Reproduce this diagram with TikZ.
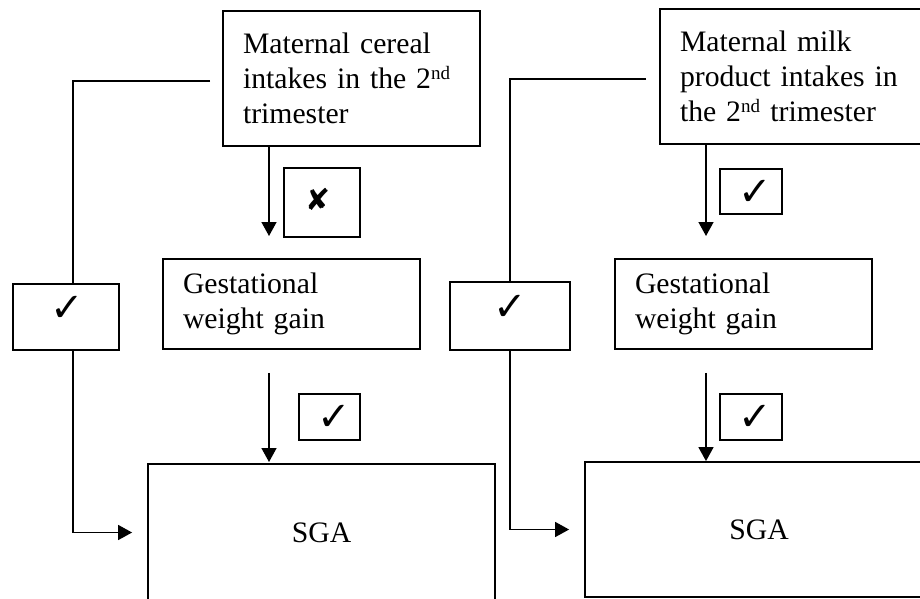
\documentclass[tikz,border=0pt]{standalone}
\usepackage{fontspec}
\setmainfont{Liberation Serif}
\newfontfamily\symfont{DejaVu Sans}
\usetikzlibrary{arrows.meta}
\newcommand\ordnd{\textsuperscript{\fontsize{19}{19}\selectfont nd}}
\begin{document}
\begin{tikzpicture}[x=1pt,y=-1pt,
  txtbox/.style={draw,line width=1.8pt,align=left,inner xsep=20pt,inner ysep=0pt,
    font=\fontsize{29.7}{35}\selectfont},
  sgabox/.style={draw,line width=1.8pt,inner sep=0pt,font=\fontsize{29.7}{35}\selectfont},
  markbox/.style={draw,line width=1.6pt,inner sep=0pt},
  chk/.style={font=\symfont\fontsize{40}{40}\selectfont},
  crs/.style={font=\symfont\fontsize{30}{30}\selectfont},
  conn/.style={line width=1.5pt},
  arr/.style={conn,-{Triangle[length=14pt,width=15pt]}}]
\useasboundingbox (0,0) rectangle (920,599);
\clip (0,0) rectangle (920,599);
% main boxes
\node[txtbox,text width=217pt,minimum height=135pt] (box1) at (351.5,78.5)
  {Maternal cereal\\intakes in the 2\ordnd\\trimester};
\node[txtbox,text width=235pt,minimum height=135pt] (box2) at (797.5,76.5)
  {Maternal milk\\product intakes in\\the 2\ordnd{} trimester};
\node[txtbox,text width=217pt,minimum height=90pt] (gest1) at (291.5,304)
  {Gestational\\weight gain};
\node[txtbox,text width=217pt,minimum height=90pt] (gest2) at (743.5,304)
  {Gestational\\weight gain};
\node[sgabox,minimum width=347pt,minimum height=137pt] (sga1) at (321.5,532.5) {SGA};
\node[sgabox,minimum width=348pt,minimum height=135pt] (sga2) at (759,529.5) {SGA};
% mark boxes
\node[markbox,minimum width=106pt,minimum height=66pt] (lcheck) at (66,317) {};
\node[chk] (lcheckm) at (67,309) {✓};
\node[markbox,minimum width=120pt,minimum height=68pt] (rcheck) at (510,316) {};
\node[chk] (rcheckm) at (510,308) {✓};
\node[markbox,minimum width=76pt,minimum height=69pt] (xbox) at (322,202.5) {};
\node[crs] (xboxm) at (318,199) {✘};
\node[markbox,minimum width=61pt,minimum height=46pt] (cbox2) at (329.5,417) {};
\node[chk] (cbox2m) at (334,418) {✓};
\node[markbox,minimum width=62pt,minimum height=45pt] (cbox3) at (751,191.5) {};
\node[chk] (cbox3m) at (755,193) {✓};
\node[markbox,minimum width=62pt,minimum height=46pt] (cbox4) at (751,417) {};
\node[chk] (cbox4m) at (755,418) {✓};
% coordinates
\coordinate (l1a) at (210,81);
\coordinate (l1b) at (73,81);
\coordinate (r1a) at (646,79);
\coordinate (a1) at (269,236);
\coordinate (a2) at (269,462);
\coordinate (a3) at (706,236);
\coordinate (a4) at (706,462);
% connectors
\draw[conn] (l1a) -- (l1b) -- (l1b |- lcheck.north);
\draw[arr] (l1b |- lcheck.south) |- ([xshift=-15pt]sga1.west);
\draw[conn] (r1a) -| (rcheck.north);
\draw[arr] (rcheck.south) |- ([xshift=-15pt]sga2.west);
\draw[arr] (box1.south -| a1) -- (a1);
\draw[arr] ([yshift=-23pt]gest1.south -| a2) -- (a2);
\draw[arr] (box2.south -| a3) -- (a3);
\draw[arr] ([yshift=-23pt]gest2.south -| a4) -- (sga2.north -| a4);
\end{tikzpicture}
\end{document}
